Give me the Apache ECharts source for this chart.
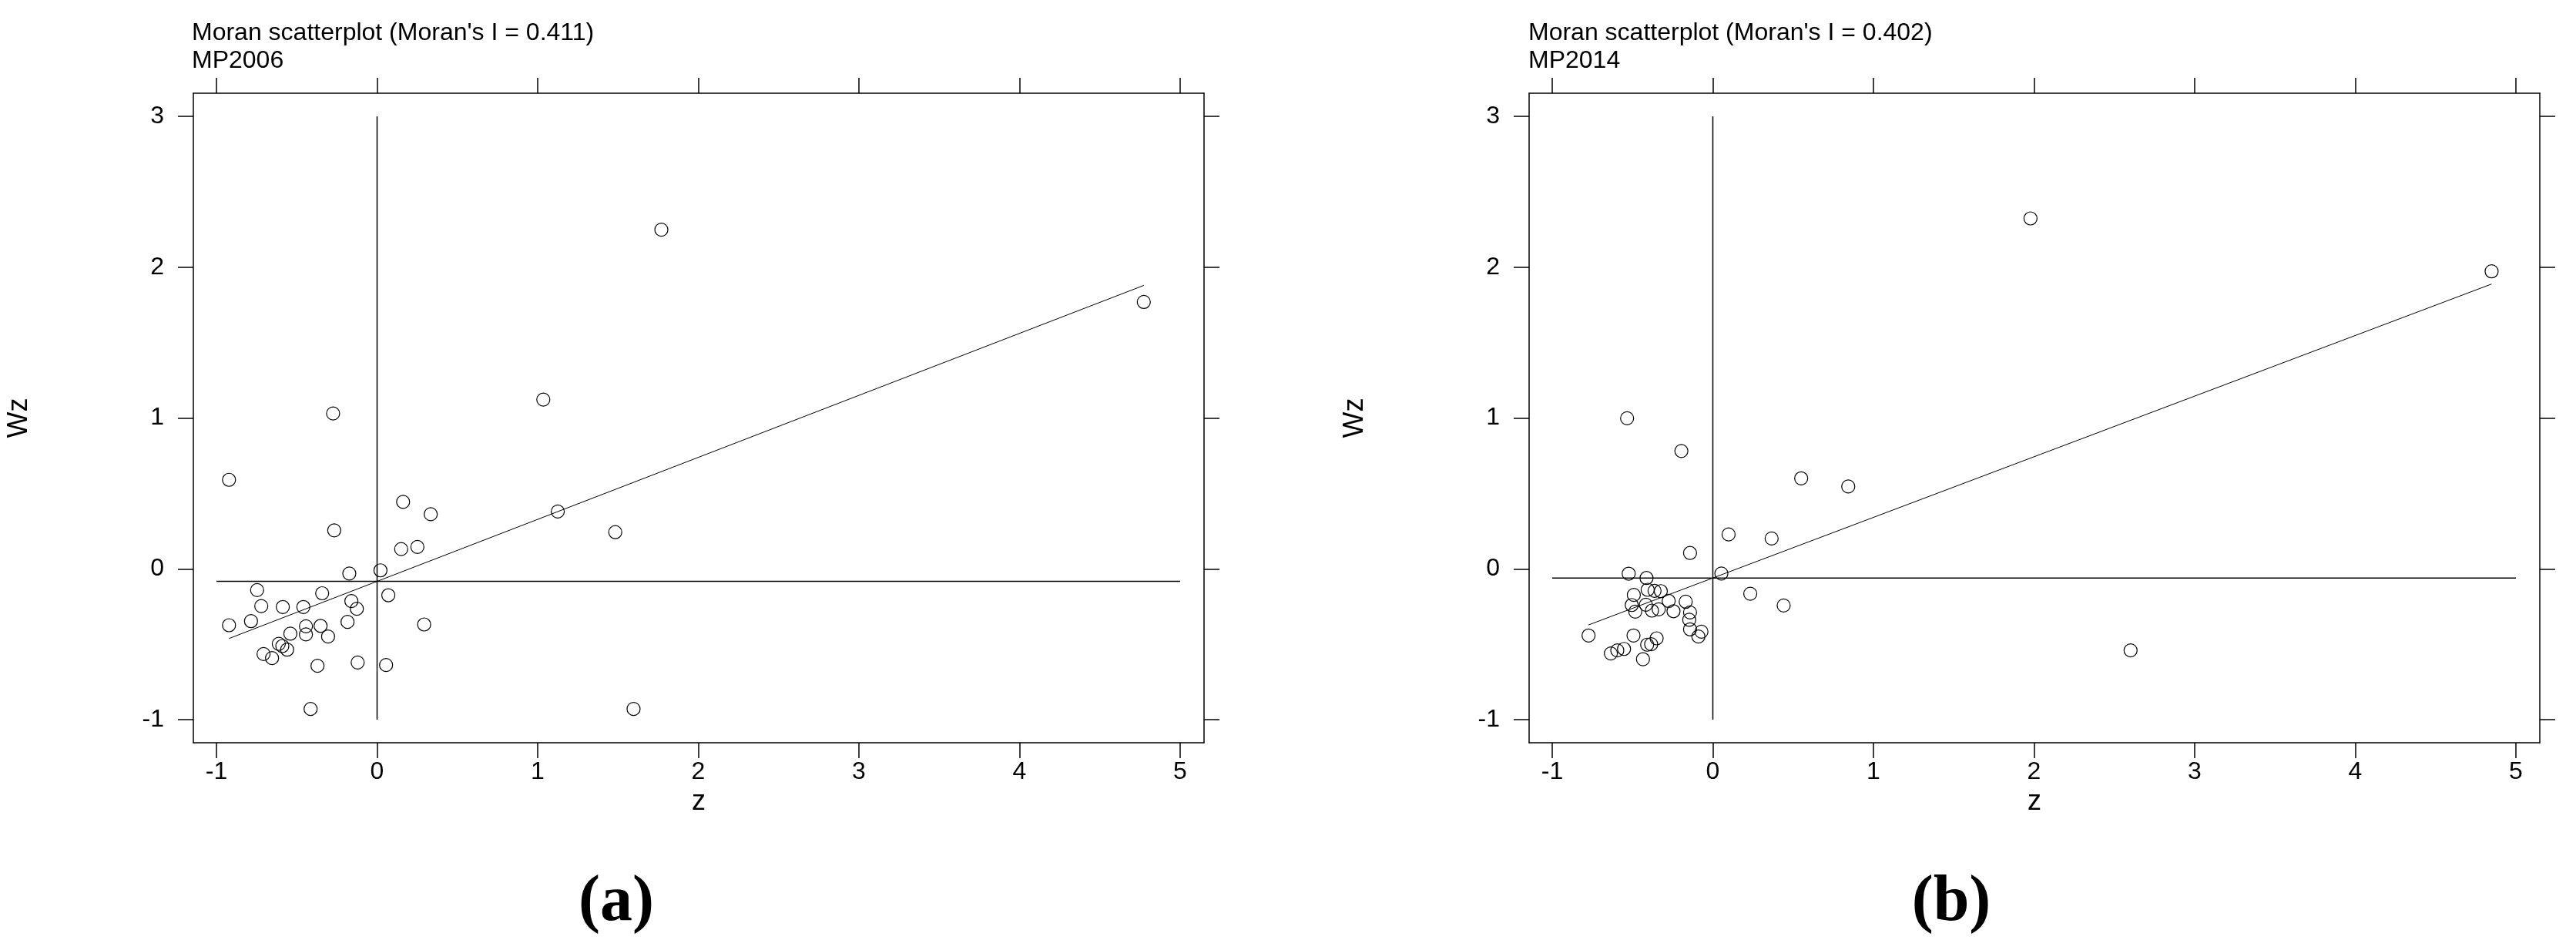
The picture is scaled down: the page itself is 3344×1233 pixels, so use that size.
<!DOCTYPE html>
<html>
<head>
<meta charset="utf-8">
<title>Moran scatterplots</title>
<script src="https://cdn.jsdelivr.net/npm/echarts@6/dist/echarts.min.js"></script>
<style>
  html, body { margin: 0; padding: 0; background: #fff; }
  #chart { width: 3344px; height: 1233px; }
</style>
</head>
<body>
<div id="chart"></div>
<script>
// ticks
var xTicks = [-1, 0, 1, 2, 3, 4, 5];
var yTicks = [-1, 0, 1, 2, 3];

// (a) MP2006  z / Wz
var z2006 = [-0.922, 0.162, 0.334, -0.267, 0.150, 0.251, -0.173, 0.021, -0.747, -0.342, 0.070, -0.160, -0.126, -0.721,
  -0.587, -0.459, -0.922, -0.785, -0.443, -0.352, -0.184, 0.293, -0.540, -0.443, -0.305, -0.612, -0.590, -0.560,
  -0.707, -0.654, -0.371, -0.121, 0.056, -0.414, 1.770, 4.774, 1.035, -0.274, 1.125, 1.483, 1.597];
var wz2006 = [0.590, 0.444, 0.362, 0.255, 0.131, 0.145, -0.031, -0.010, -0.141, -0.162, -0.175, -0.214, -0.265, -0.247,
  -0.253, -0.253, -0.374, -0.347, -0.381, -0.378, -0.352, -0.369, -0.430, -0.435, -0.449, -0.497, -0.512, -0.536,
  -0.565, -0.592, -0.643, -0.621, -0.638, -0.929, 2.248, 1.769, 1.122, 1.030, 0.380, 0.243, -0.929];
var fit2006 = [[-0.922, -0.462], [4.774, 1.879]];
var meanWz2006 = -0.083;

// (b) MP2014
var z2014 = [0.550, 0.098, 0.366, -0.142, -0.524, 0.053, -0.413, -0.406, -0.363, -0.324, -0.492, 0.233, -0.275, -0.169,
  -0.505, -0.417, 0.441, -0.483, -0.379, -0.337, -0.245, -0.142, -0.147, -0.142, -0.071, -0.090, -0.774, -0.494,
  -0.350, -0.409, -0.384, -0.553, -0.595, -0.635, -0.435, -0.534, -0.196, 0.843, 1.978, 4.849, 2.601];
var wz2014 = [0.600, 0.228, 0.201, 0.105, -0.032, -0.031, -0.061, -0.139, -0.146, -0.148, -0.173, -0.165, -0.213, -0.218,
  -0.240, -0.238, -0.243, -0.284, -0.277, -0.269, -0.281, -0.289, -0.338, -0.401, -0.417, -0.449, -0.442, -0.442,
  -0.461, -0.503, -0.500, -0.531, -0.541, -0.561, -0.599, 0.998, 0.781, 0.546, 2.323, 1.972, -0.541];
var fit2014 = [[-0.774, -0.372], [4.849, 1.888]];
var meanWz2014 = -0.061;

// extent of the quadrant lines
var refX = [-1, 5];
var refY = [-1, 3];

var titles = ["Moran scatterplot (Moran's I = 0.411)\nMP2006", "Moran scatterplot (Moran's I = 0.402)\nMP2014"];
var panelTags = ['(a)', '(b)'];

var sans = '"Liberation Sans", Arial, sans-serif';
var black = '#000';

function pairs(xs, ys) {
  return xs.map(function (v, i) { return [v, ys[i]]; });
}

var panels = [
  { pts: pairs(z2006, wz2006), fit: fit2006, mean: meanWz2006, left: 251, titleLeft: 249, tagX: 800 },
  { pts: pairs(z2014, wz2014), fit: fit2014, mean: meanWz2014, left: 1985, titleLeft: 1984, tagX: 2533 }
];

var grid = [], xAxis = [], yAxis = [], series = [], title = [], graphic = [];
var lineSt = { color: black, width: 1.5 };

panels.forEach(function (p, i) {
  grid.push({ left: p.left, top: 121, width: 1312, height: 843 });

  var xBase = { gridIndex: i, type: 'value', min: -1.144, max: 5.149, splitLine: { show: false } };
  xAxis.push(Object.assign({}, xBase, {
    position: 'bottom',
    axisLine: { show: true, onZero: false, lineStyle: lineSt },
    axisTick: { show: true, length: 20, customValues: xTicks, lineStyle: lineSt },
    axisLabel: { customValues: xTicks, fontSize: 32, margin: 22, color: black, fontFamily: sans },
    name: 'z', nameLocation: 'middle', nameGap: 50,
    nameTextStyle: { fontSize: 36, color: black, fontFamily: sans }
  }));
  xAxis.push(Object.assign({}, xBase, {
    position: 'top',
    axisLine: { show: true, onZero: false, lineStyle: lineSt },
    axisTick: { show: true, length: 20, customValues: xTicks, lineStyle: lineSt },
    axisLabel: { show: false }
  }));

  var yBase = { gridIndex: i, type: 'value', min: -1.153, max: 3.153, splitLine: { show: false } };
  yAxis.push(Object.assign({}, yBase, {
    position: 'left',
    axisLine: { show: true, onZero: false, lineStyle: lineSt },
    axisTick: { show: true, length: 20, customValues: yTicks, lineStyle: lineSt },
    axisLabel: { customValues: yTicks, fontSize: 32, margin: 38, color: black, fontFamily: sans },
    name: 'Wz', nameLocation: 'middle', nameRotate: 90, nameGap: 208,
    nameTextStyle: { fontSize: 36, color: black, fontFamily: sans }
  }));
  yAxis.push(Object.assign({}, yBase, {
    position: 'right',
    axisLine: { show: true, onZero: false, lineStyle: lineSt },
    axisTick: { show: true, length: 20, customValues: yTicks, lineStyle: lineSt },
    axisLabel: { show: false }
  }));

  var ax = { xAxisIndex: 2 * i, yAxisIndex: 2 * i, silent: true, animation: false };
  series.push(Object.assign({ type: 'line', symbol: 'none', lineStyle: { color: black, width: 1.5 },
    data: [[refX[0], p.mean], [refX[1], p.mean]] }, ax));
  series.push(Object.assign({ type: 'line', symbol: 'none', lineStyle: { color: black, width: 1.5 },
    data: [[0, refY[0]], [0, refY[1]]] }, ax));
  series.push(Object.assign({ type: 'line', symbol: 'none', lineStyle: { color: black, width: 1 },
    data: p.fit }, ax));
  series.push(Object.assign({ type: 'scatter', symbol: 'circle', symbolSize: 17,
    itemStyle: { color: 'rgba(0,0,0,0)', borderColor: black, borderWidth: 1.2, opacity: 1 },
    data: p.pts }, ax));

  title.push({
    text: titles[i], left: p.titleLeft, top: 25, padding: 0,
    textStyle: { fontSize: 32, fontWeight: 'normal', color: black, fontFamily: sans, lineHeight: 36 }
  });

  graphic.push({
    type: 'text', x: p.tagX, y: 1172,
    style: { text: panelTags[i], fill: black, font: 'bold 84px "Liberation Serif", "Times New Roman", serif',
      textAlign: 'center', textVerticalAlign: 'middle' }
  });
});

var myChart = echarts.init(document.getElementById('chart'));
myChart.setOption({
  backgroundColor: '#fff',
  animation: false,
  title: title,
  grid: grid,
  xAxis: xAxis,
  yAxis: yAxis,
  series: series,
  graphic: graphic
});
</script>
</body>
</html>
